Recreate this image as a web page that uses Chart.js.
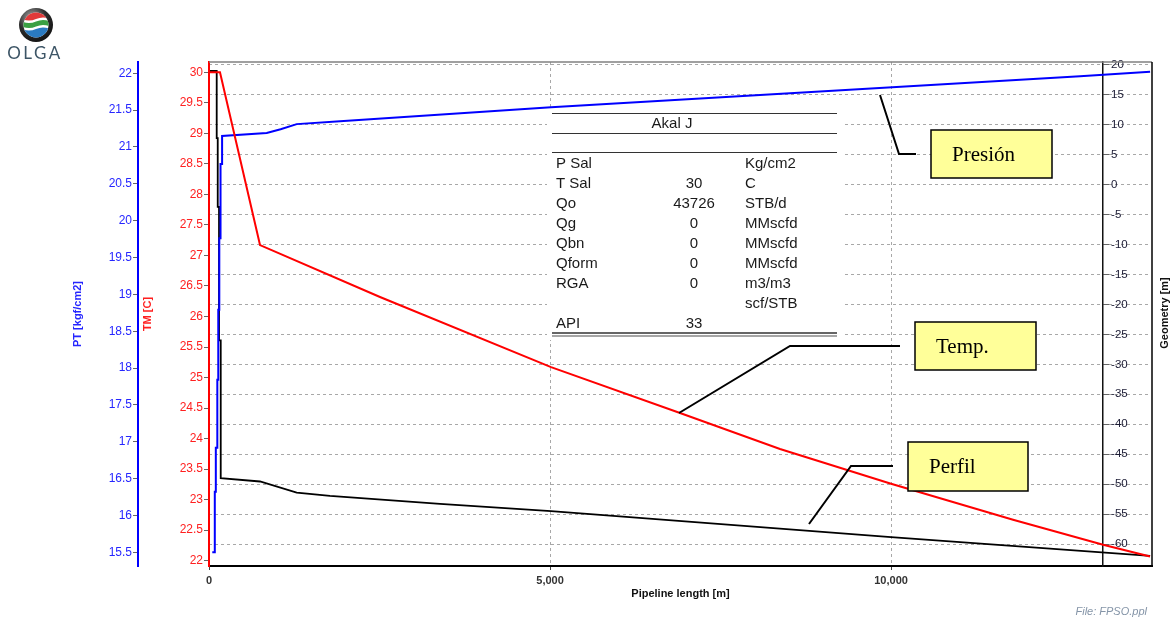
<!DOCTYPE html>
<html>
<head>
<meta charset="utf-8">
<script src="https://cdn.jsdelivr.net/npm/chart.js@4.4.1/dist/chart.umd.min.js"></script>
<style>
  body { margin: 0; background: #fff; }
  #wrap { position: relative; width: 1172px; height: 619px; }
  #logo { position: absolute; left: 0; top: 0; }
</style>
</head>
<body>
<div id="wrap">
  <canvas id="chart" width="1172" height="619"></canvas>
  <svg id="logo" width="70" height="64" viewBox="0 0 70 64">
    <defs>
      <radialGradient id="ring" cx="38%" cy="30%" r="75%">
        <stop offset="0" stop-color="#b0b0b0"/>
        <stop offset="0.55" stop-color="#2c2c2c"/>
        <stop offset="1" stop-color="#111"/>
      </radialGradient>
      <clipPath id="inner"><circle cx="36" cy="25" r="12.5"/></clipPath>
    </defs>
    <circle cx="36" cy="25" r="17" fill="url(#ring)"/>
    <circle cx="36" cy="25" r="12.5" fill="#fff"/>
    <g clip-path="url(#inner)">
      <path d="M22 11 H50 V19 Q43 16 36 19 Q29 22 22 19 Z" fill="#e03a3a"/>
      <path d="M22 21.5 Q29 24.5 36 21.5 Q43 18.5 50 21.5 V26.5 Q43 23.5 36 26.5 Q29 29.5 22 26.5 Z" fill="#3aa043"/>
      <path d="M22 29 Q29 32 36 29 Q43 26 50 29 V40 H22 Z" fill="#2a7ac0"/>
    </g>
    <text x="35" y="59" text-anchor="middle" font-family="Lato, 'DejaVu Sans', sans-serif" font-size="17" letter-spacing="2.5" fill="#3d5566">OLGA</text>
  </svg>
</div>
<script>
// Temperature along the line (TM axis)
const tempDist = [15, 161, 748, 2507, 5015, 6906, 8372, 10000, 11789, 13109, 13798];
const tempValues = [30.0, 30.0, 27.17, 26.32, 25.17, 24.42, 23.83, 23.26, 22.67, 22.26, 22.07];

// Pressure (PT axis)
const presDist = [48, 85, 85, 100, 100, 122, 122, 136, 136, 151, 151, 169, 169, 192, 192, 846, 1050, 1286, 1921, 5015, 12771, 13798];
const presValues = [15.50, 15.50, 16.32, 16.32, 16.92, 16.92, 17.84, 17.84, 18.79, 18.79, 19.76, 19.76, 20.77, 20.77, 21.15, 21.19, 21.24, 21.31, 21.35, 21.54, 21.96, 22.02];

// Pipeline profile (Geometry axis)
const geomDist = [15, 113, 113, 128, 128, 147, 147, 172, 172, 748, 1286, 1774, 3387, 5015, 10000, 13798];
const geomValues = [19.0, 19.0, 7.8, 7.8, -3.7, -3.7, -26.0, -26.0, -49.0, -49.56, -51.4, -51.95, -53.3, -54.5, -58.85, -61.97];

// Tick labels
const xTicks = [0, 5000, 10000];
const ptTicks = [15.5, 16, 16.5, 17, 17.5, 18, 18.5, 19, 19.5, 20, 20.5, 21, 21.5, 22];
const tmTicks = [22, 22.5, 23, 23.5, 24, 24.5, 25, 25.5, 26, 26.5, 27, 27.5, 28, 28.5, 29, 29.5, 30];
const geomTicks = [-60, -55, -50, -45, -40, -35, -30, -25, -20, -15, -10, -5, 0, 5, 10, 15, 20];

// Summary table
const tableTitle = 'Akal J';
const tableLabels = ['P Sal', 'T Sal', 'Qo', 'Qg', 'Qbn', 'Qform', 'RGA', '', 'API'];
const tableValues = ['', '30', '43726', '0', '0', '0', '0', '', '33'];
const tableUnits = ['Kg/cm2', 'C', 'STB/d', 'MMscfd', 'MMscfd', 'MMscfd', 'm3/m3', 'scf/STB', ''];

const xMax = 13826;
const geomAxisAt = 13109; // the geometry axis sits inside the plot, at this length

const FONT = 'Arial, "Liberation Sans", sans-serif';
Chart.defaults.font.family = FONT;

function toPoints(xs, ys) {
  return xs.map((x, i) => ({x: x, y: ys[i]}));
}

function setTicks(values) {
  return (scale) => { scale.ticks = values.map(v => ({value: v})); };
}

// Callout boxes (annotation only)
const callouts = [
  {text: 'Presión', box: [931, 130, 121, 48], line: [[880, 95], [899, 154], [916, 154]]},
  {text: 'Temp.', box: [915, 322, 121, 48], line: [[679, 413], [790, 346], [900, 346]]},
  {text: 'Perfil', box: [908, 442, 120, 49], line: [[809, 524], [851, 466], [893, 466]]},
];

const decorPlugin = {
  id: 'decor',
  afterLayout(chart) {
    // Move the geometry axis from the right edge to its spot inside the plot.
    const g = chart.scales.geom;
    g.left = chart.scales.x.getPixelForValue(geomAxisAt);
    g.right = chart.chartArea.right;
    g.width = g.right - g.left;
  },
  beforeDatasetsDraw(chart) {
    const ctx = chart.ctx;
    ctx.save();
    ctx.fillStyle = '#ffffff';
    ctx.fillRect(547, 107, 295, 233);

    ctx.strokeStyle = '#333';
    ctx.lineWidth = 1.2;
    [113.5, 133.5, 152.5].forEach(y => {
      ctx.beginPath(); ctx.moveTo(552, y); ctx.lineTo(837, y); ctx.stroke();
    });
    ctx.lineWidth = 1.5;
    ctx.beginPath(); ctx.moveTo(552, 333); ctx.lineTo(837, 333); ctx.stroke();
    ctx.strokeStyle = '#888';
    ctx.beginPath(); ctx.moveTo(552, 336); ctx.lineTo(837, 336); ctx.stroke();

    ctx.fillStyle = '#1a1a1a';
    ctx.font = '15px ' + FONT;
    ctx.textBaseline = 'middle';
    ctx.textAlign = 'center';
    ctx.fillText(tableTitle, 672, 124);
    tableLabels.forEach((lab, i) => {
      const y = 164 + i * 20;
      ctx.textAlign = 'left';
      ctx.fillText(lab, 556, y);
      ctx.textAlign = 'center';
      ctx.fillText(tableValues[i], 694, y);
      ctx.textAlign = 'left';
      ctx.fillText(tableUnits[i], 745, y);
    });
    ctx.restore();
  },
  afterDatasetsDraw(chart) {
    const {ctx, chartArea: {left, right, top, bottom}} = chart;
    ctx.save();
    // frame
    ctx.strokeStyle = '#808080';
    ctx.lineWidth = 1.5;
    ctx.beginPath(); ctx.moveTo(left, top); ctx.lineTo(right, top); ctx.stroke();
    ctx.strokeStyle = '#000';
    ctx.beginPath(); ctx.moveTo(right, top); ctx.lineTo(right, bottom); ctx.stroke();

    // callouts
    callouts.forEach(c => {
      ctx.strokeStyle = '#000';
      ctx.lineWidth = 2;
      ctx.beginPath();
      c.line.forEach((p, i) => i ? ctx.lineTo(p[0], p[1]) : ctx.moveTo(p[0], p[1]));
      ctx.stroke();
      const [bx, by, bw, bh] = c.box;
      ctx.fillStyle = '#ffff99';
      ctx.fillRect(bx, by, bw, bh);
      ctx.lineWidth = 1.5;
      ctx.strokeRect(bx, by, bw, bh);
      ctx.fillStyle = '#000';
      ctx.font = '21px "Times New Roman", "Liberation Serif", serif';
      ctx.textAlign = 'left';
      ctx.textBaseline = 'middle';
      ctx.fillText(c.text, bx + 21, by + bh / 2 + 1);
    });
    ctx.restore();
  },
  afterDraw(chart) {
    const ctx = chart.ctx;
    ctx.save();
    ctx.fillStyle = '#111';
    ctx.font = 'bold 11px ' + FONT;
    ctx.textAlign = 'center';
    ctx.textBaseline = 'middle';
    ctx.translate(1165, 313);
    ctx.rotate(-Math.PI / 2);
    ctx.fillText('Geometry [m]', 0, 0);
    ctx.restore();

    ctx.save();
    ctx.fillStyle = '#8595a8';
    ctx.font = 'italic 11px ' + FONT;
    ctx.textAlign = 'right';
    ctx.textBaseline = 'middle';
    ctx.fillText('File: FPSO.ppl', 1147, 612);
    ctx.restore();
  }
};

const config = {
  type: 'line',
  data: {
    datasets: [
      {label: 'TM', data: toPoints(tempDist, tempValues), yAxisID: 'tm', borderColor: '#ff0000', borderWidth: 2, order: 1},
      {label: 'PT', data: toPoints(presDist, presValues), yAxisID: 'pt', borderColor: '#0000ff', borderWidth: 2, order: 2},
      {label: 'Geometry', data: toPoints(geomDist, geomValues), yAxisID: 'geom', borderColor: '#000000', borderWidth: 1.8, order: 3},
    ]
  },
  options: {
    responsive: false,
    animation: false,
    elements: {
      point: {radius: 0},
      line: {tension: 0, fill: false}
    },
    layout: {
      padding: {left: 60, right: 20, top: 62, bottom: 16}
    },
    plugins: {
      legend: {display: false},
      tooltip: {enabled: false}
    },
    scales: {
      x: {
        type: 'linear',
        min: 0,
        max: xMax,
        afterBuildTicks: setTicks(xTicks),
        afterFit: (s) => { s.height = 37; },
        ticks: {
          color: '#333',
          font: {size: 11, weight: 'bold'},
          padding: 4,
          maxRotation: 0,
          callback: (v) => v.toLocaleString('en-US')
        },
        grid: {z: -1, color: '#a8a8a8', tickLength: 4, tickColor: '#444'},
        border: {display: true, color: '#000', width: 2, dash: [3, 3]},
        title: {display: true, text: 'Pipeline length [m]', color: '#111', font: {size: 11, weight: 'bold'}, padding: {top: 0, bottom: 2.4}}
      },
      pt: {
        type: 'linear',
        position: 'left',
        weight: 2,
        min: 15.314,
        max: 22.153,
        afterBuildTicks: setTicks(ptTicks),
        afterFit: (s) => { s.width = 78; },
        ticks: {color: '#2626ff', font: {size: 12}, padding: 1, autoSkip: false, callback: (v) => String(v)},
        grid: {drawOnChartArea: false, tickLength: 5, tickColor: '#666'},
        border: {display: true, color: '#0000ff', width: 2},
        title: {display: true, text: 'PT [kgf/cm2]', color: '#2626ff', font: {size: 11, weight: 'bold'}, padding: {top: 11.4, bottom: 0}}
      },
      tm: {
        type: 'linear',
        position: 'left',
        weight: 1,
        min: 21.913,
        max: 30.169,
        afterBuildTicks: setTicks(tmTicks),
        afterFit: (s) => { s.width = 71; },
        ticks: {color: '#ff2020', font: {size: 12}, padding: 1, autoSkip: false, callback: (v) => String(v)},
        grid: {drawOnChartArea: false, tickLength: 5, tickColor: '#666'},
        border: {display: true, color: '#ff0000', width: 2},
        title: {display: true, text: 'TM [C]', color: '#ff2020', font: {size: 11, weight: 'bold'}, padding: {top: 3.4, bottom: 0}}
      },
      geom: {
        type: 'linear',
        position: 'right',
        min: -63.67,
        max: 20.5,
        afterBuildTicks: setTicks(geomTicks),
        afterFit: (s) => { s.width = 0; },
        ticks: {color: '#1a1a33', font: {size: 11.5}, padding: 2, autoSkip: false, callback: (v) => String(v)},
        grid: {z: -1, color: '#a8a8a8', tickLength: 6, tickColor: '#666'},
        border: {display: true, color: '#111', width: 1.5, dash: [3, 3]}
      }
    }
  },
  plugins: [decorPlugin]
};

new Chart(document.getElementById('chart'), config);
</script>
</body>
</html>
